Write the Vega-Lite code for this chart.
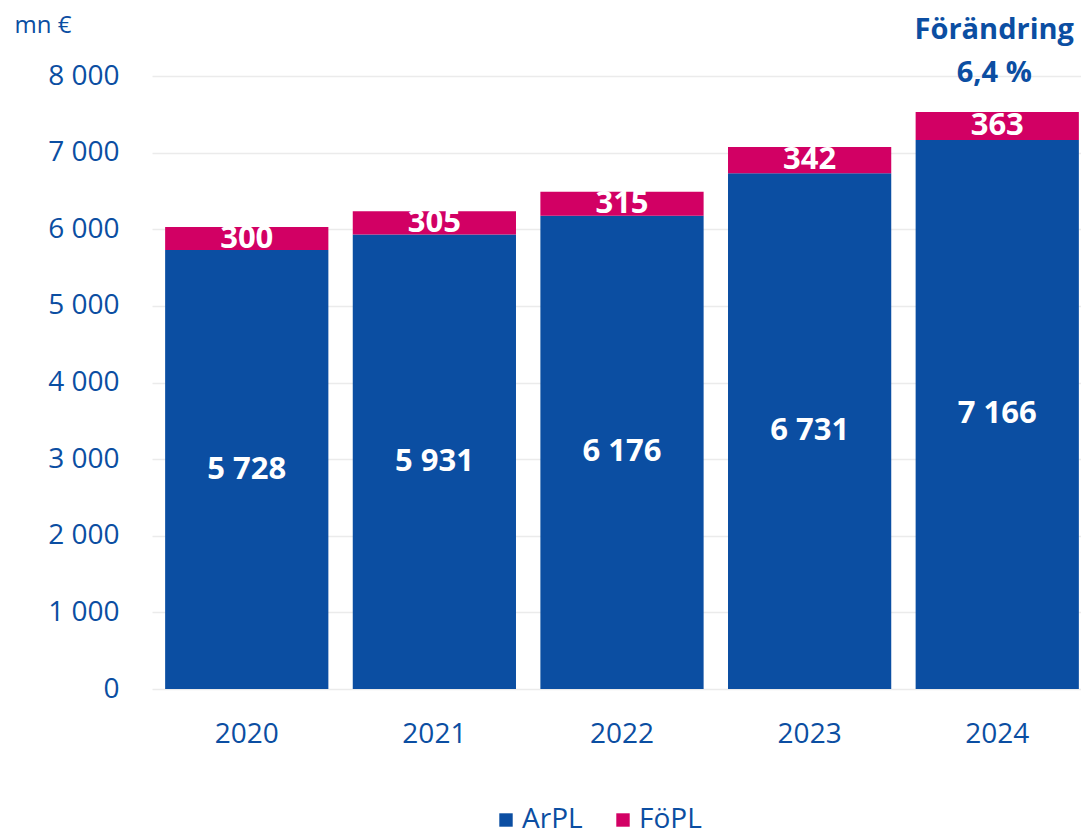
{
  "$schema": "https://vega.github.io/schema/vega-lite/v6.json",
  "width": 940,
  "height": 613,
  "padding": {"left": 152, "top": 76, "right": 1, "bottom": 146},
  "autosize": {"type": "none"},
  "background": "white",
  "config": {
    "font": "Open Sans",
    "view": {"stroke": null},
    "locale": {"number": {"decimal": ",", "thousands": " ", "grouping": [3], "currency": ["", " €"]}}
  },
  "datasets": {
    "bars": [
      {"year": "2020", "serie": "ArPL", "value": 5728},
      {"year": "2020", "serie": "FöPL", "value": 300},
      {"year": "2021", "serie": "ArPL", "value": 5931},
      {"year": "2021", "serie": "FöPL", "value": 305},
      {"year": "2022", "serie": "ArPL", "value": 6176},
      {"year": "2022", "serie": "FöPL", "value": 315},
      {"year": "2023", "serie": "ArPL", "value": 6731},
      {"year": "2023", "serie": "FöPL", "value": 342},
      {"year": "2024", "serie": "ArPL", "value": 7166},
      {"year": "2024", "serie": "FöPL", "value": 363}
    ],
    "notes": [
      {"year": "2024", "pos": 8600, "label": "Förändring"},
      {"year": "2024", "pos": 8040, "label": "6,4 %"}
    ]
  },
  "layer": [
    {
      "data": {"name": "bars"},
      "transform": [
        {"calculate": "datum.serie === 'ArPL' ? 0 : 1", "as": "ord"}
      ],
      "mark": {"type": "bar"},
      "encoding": {
        "x": {
          "field": "year", "type": "nominal",
          "scale": {"paddingInner": 0.13, "paddingOuter": 0.07},
          "axis": {
            "title": null, "labelAngle": 0, "ticks": false, "domain": false,
            "labelFontSize": 28, "labelColor": "#0B4EA2", "labelPadding": 31
          }
        },
        "y": {
          "field": "value", "type": "quantitative", "aggregate": "sum",
          "stack": "zero",
          "scale": {"domain": [0, 8000]},
          "axis": {
            "title": "mn €", "titleAngle": 0, "titleAlign": "left", "titleBaseline": "middle",
            "titleX": -138, "titleY": -51, "titleFontSize": 24, "titleFontWeight": "normal",
            "titleColor": "#0B4EA2",
            "values": [0, 1000, 2000, 3000, 4000, 5000, 6000, 7000, 8000],
            "format": ",d",
            "ticks": false, "domain": false,
            "labelFontSize": 28, "labelColor": "#0B4EA2", "labelPadding": 33,
            "gridColor": "#EBEBEB", "gridWidth": 1.5
          }
        },
        "color": {
          "field": "serie", "type": "nominal",
          "scale": {"domain": ["ArPL", "FöPL"], "range": ["#0B4EA2", "#D20064"]},
          "legend": {
            "title": null, "orient": "none", "direction": "horizontal",
            "legendX": 340, "legendY": 730,
            "symbolType": "square", "symbolSize": 180, "symbolStrokeWidth": 0,
            "labelFontSize": 28, "labelColor": "#0B4EA2", "columnPadding": 26, "labelOffset": 2
          }
        },
        "order": {"field": "ord", "type": "quantitative"}
      }
    },
    {
      "data": {"name": "bars"},
      "transform": [
        {"calculate": "datum.serie === 'ArPL' ? 0 : 1", "as": "ord"},
        {"stack": "value", "groupby": ["year"], "sort": [{"field": "ord"}], "as": ["v0", "v1"]},
        {"calculate": "(datum.v0 + datum.v1) / 2", "as": "mid"}
      ],
      "mark": {"type": "text", "color": "white", "fontWeight": "bold", "fontSize": 31, "baseline": "middle"},
      "encoding": {
        "x": {"field": "year", "type": "nominal"},
        "y": {"field": "mid", "type": "quantitative"},
        "text": {"field": "value", "type": "quantitative", "format": ",d"}
      }
    },
    {
      "data": {"name": "notes"},
      "mark": {"type": "text", "color": "#0B4EA2", "fontWeight": "bold", "fontSize": 29, "baseline": "middle", "dx": -3},
      "encoding": {
        "x": {"field": "year", "type": "nominal"},
        "y": {"field": "pos", "type": "quantitative"},
        "text": {"field": "label", "type": "nominal"}
      }
    }
  ]
}
